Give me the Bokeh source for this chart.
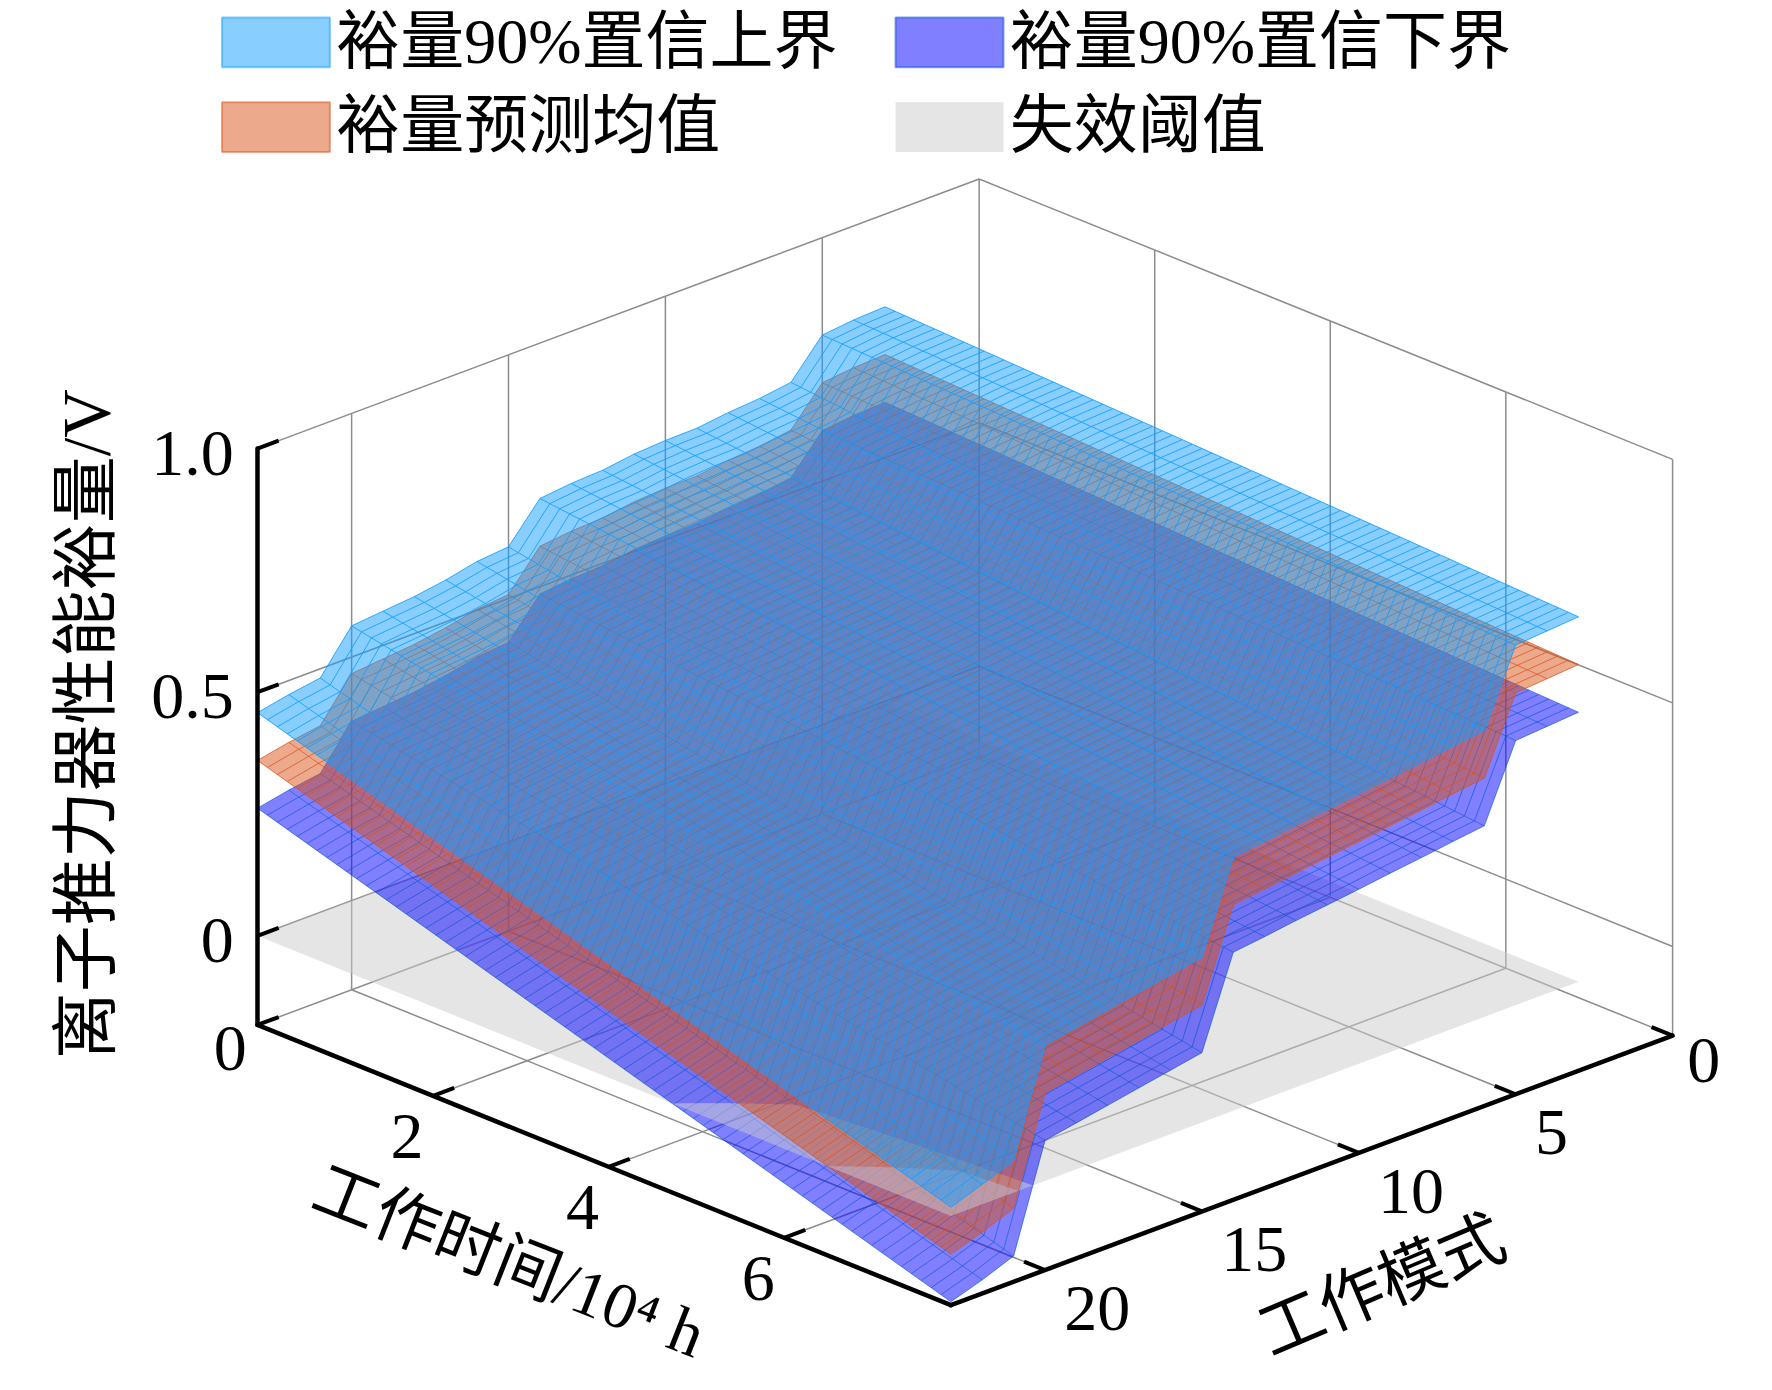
import numpy as np
from bokeh.plotting import figure
from bokeh.models import Range1d
from bokeh.embed import file_html
from bokeh.resources import INLINE
from bokeh.core.properties import value

# ---------------- data ----------------
modes = list(range(3, 24))                 # 工作模式
time_range = [0.0, 7.9]                    # 工作时间 / 10^4 h
n_time = 71                                # mesh samples along time

# margin (V) at the start (t = 0) and at the end (t = 7.9) of every mode line
upper_start = [0.810, 0.807, 0.800, 0.727, 0.718, 0.713, 0.705, 0.704, 0.700, 0.691, 0.688,
               0.681, 0.606, 0.600, 0.586, 0.576, 0.570, 0.564, 0.481, 0.471, 0.458]
upper_end   = [0.749, 0.744, 0.739, 0.588, 0.580, 0.571, 0.563, 0.554, 0.546, 0.538, 0.529,
               0.521, 0.339, 0.327, 0.315, 0.303, 0.291, 0.279, 0.066, 0.041, 0.018]
mean_start  = [0.712, 0.709, 0.702, 0.629, 0.620, 0.615, 0.607, 0.606, 0.602, 0.593, 0.590,
               0.583, 0.508, 0.502, 0.488, 0.478, 0.472, 0.466, 0.383, 0.373, 0.360]
mean_end    = [0.651, 0.646, 0.641, 0.490, 0.482, 0.473, 0.465, 0.456, 0.448, 0.440, 0.431,
               0.423, 0.241, 0.229, 0.217, 0.205, 0.193, 0.181, -0.032, -0.057, -0.078]
lower_start = [0.614, 0.611, 0.604, 0.531, 0.522, 0.517, 0.509, 0.508, 0.504, 0.495, 0.492,
               0.485, 0.410, 0.404, 0.390, 0.380, 0.374, 0.368, 0.285, 0.275, 0.262]
lower_end   = [0.553, 0.548, 0.543, 0.392, 0.384, 0.375, 0.367, 0.358, 0.350, 0.342, 0.333,
               0.325, 0.143, 0.131, 0.119, 0.107, 0.095, 0.083, -0.130, -0.155, -0.176]
threshold = 0.0                            # 失效阈值

t_lim = [0.0, 7.9]
m_lim = [0.0, 23.0]
z_lim = [-0.183, 1.0]
t_ticks = [0, 2, 4, 6]
t_tick_labels = ["0", "2", "4", "6"]
m_ticks = [0, 5, 10, 15, 20]
m_tick_labels = ["0", "5", "10", "15", "20"]
z_ticks = [0.0, 0.5, 1.0]
z_tick_labels = ["0", "0.5", "1.0"]

x_title = "工作时间/10⁴ h"
y_title = "工作模式"
z_title = "离子推力器性能裕量/V"
legend_labels = ["裕量90%置信上界", "裕量90%置信下界", "裕量预测均值", "失效阈值"]

# ---------------- styling ----------------
FONT = value("Liberation Serif, Noto Sans CJK SC")
UPPER_FACE, UPPER_EDGE, UPPER_EA = "#129EFF", "#129EFF", 0.85
MEAN_FACE, MEAN_EDGE, MEAN_EA = "#D95319", "#D95319", 0.75
LOWER_FACE, LOWER_EDGE, LOWER_EA = "#0000FF", "#0050D0", 0.6
THR_FACE = "#CCCCCC"
FACE_ALPHA = 0.5
GRID_COLOR = "#8C8C8C"

# ---------------- projection (orthographic 3-D view) ----------------
S = 1772 / 1568.0
PAGE_H = 1390.0
CORNER = (227.4, 906.5)        # view px of (t=t0, m=m_max, z=z_min)
T_VEC = (613.6, 248.0)         # view px for the full time span
M_VEC = (638.6, -238.5)        # view px for the full mode span (m_max -> m_min)
Z_PX = 431.1                   # view px per volt


def proj(t, m, z):
    t = np.asarray(t, float)
    m = np.asarray(m, float)
    z = np.asarray(z, float)
    ft = (t - t_lim[0]) / (t_lim[1] - t_lim[0])
    fm = (m_lim[1] - m) / (m_lim[1] - m_lim[0])
    xv = CORNER[0] + ft * T_VEC[0] + fm * M_VEC[0]
    yv = CORNER[1] + ft * T_VEC[1] + fm * M_VEC[1] - (z - z_lim[0]) * Z_PX
    return xv * S, PAGE_H - yv * S


def vx(v):   # view px offset -> page px offset
    return v * S


p = figure(width=1756, height=1374, x_range=Range1d(0, 1756), y_range=Range1d(16, 1390),
           output_backend="svg", toolbar_location=None, min_border=0,
           x_axis_location=None, y_axis_location=None)
p.xgrid.visible = False
p.ygrid.visible = False
p.outline_line_color = None
p.background_fill_color = "white"
p.border_fill_color = "white"

# ---------------- back walls and floor grid ----------------
gx, gy = [], []


def seg3(a, b):
    x, y = proj([a[0], b[0]], [a[1], b[1]], [a[2], b[2]])
    gx.append(x.tolist())
    gy.append(y.tolist())


T0, T1 = t_lim
M0, M1 = m_lim
Z0, Z1 = z_lim
for m in [M0] + m_ticks[1:]:
    seg3((T0, m, Z0), (T0, m, Z1))                 # left wall verticals
    seg3((T0, m, Z0), (T1, m, Z0))                 # floor lines along time
for z in z_ticks:
    seg3((T0, M0, z), (T0, M1, z))                 # left wall horizontals
    seg3((T0, M0, z), (T1, M0, z))                 # right wall horizontals
for t in [T0] + t_ticks[1:]:
    seg3((t, M0, Z0), (t, M1, Z0))                 # floor lines along mode
for t in t_ticks[1:] + [T1]:
    seg3((t, M0, Z0), (t, M0, Z1))                 # right wall verticals
p.multi_line(gx, gy, line_color=GRID_COLOR, line_width=1.5)

# ---------------- surfaces ----------------
ts = np.linspace(time_range[0], time_range[1], n_time)
ms = np.array(modes, float)
TT, MM = np.meshgrid(ts, ms, indexing="ij")
frac = ((ts - ts[0]) / (ts[-1] - ts[0]))[:, None]


def clip_poly(pts, zs):
    """split a projected polygon at the threshold plane (z linear along edges)"""
    below, above = [], []
    n = len(pts)
    for k in range(n):
        pa, pb = pts[k], pts[(k + 1) % n]
        za, zb = zs[k] - threshold, zs[(k + 1) % n] - threshold
        (below if za < 0 else above).append(pa)
        if (za < 0) != (zb < 0):
            f = za / (za - zb)
            q = (pa[0] + f * (pb[0] - pa[0]), pa[1] + f * (pb[1] - pa[1]))
            below.append(q)
            above.append(q)
    return below, above


def build(start, end):
    s = np.array(start)[None, :]
    e = np.array(end)[None, :]
    Z = s + (e - s) * frac
    X, Y = proj(TT, MM, Z)
    nt, nm = Z.shape
    polys = {True: ([], []), False: ([], [])}

    def add_poly(cls, pts):
        if len(pts) >= 3:
            polys[cls][0].append([float(q[0]) for q in pts])
            polys[cls][1].append([float(q[1]) for q in pts])

    for j in range(nm - 1):
        zq = np.stack([Z[:-1, j], Z[1:, j], Z[1:, j + 1], Z[:-1, j + 1]], axis=1) - threshold
        status = np.where((zq < 0).all(axis=1), 0, np.where((zq >= 0).all(axis=1), 1, 2))
        i = 0
        while i < nt - 1:
            st = status[i]
            if st == 2:
                pts = [(X[i, j], Y[i, j]), (X[i + 1, j], Y[i + 1, j]),
                       (X[i + 1, j + 1], Y[i + 1, j + 1]), (X[i, j + 1], Y[i, j + 1])]
                zs = [Z[i, j], Z[i + 1, j], Z[i + 1, j + 1], Z[i, j + 1]]
                b, a = clip_poly(pts, zs)
                add_poly(True, b)
                add_poly(False, a)
                i += 1
                continue
            k = i
            while k + 1 < nt - 1 and status[k + 1] == st:
                k += 1
            pts = [(X[i, j], Y[i, j]), (X[k + 1, j], Y[k + 1, j]),
                   (X[k + 1, j + 1], Y[k + 1, j + 1]), (X[i, j + 1], Y[i, j + 1])]
            add_poly(st == 0, pts)
            i = k + 1

    lines = {True: ([], []), False: ([], [])}

    def runs(xx, yy, zz):
        cls = bool(zz[0] - threshold < 0)
        cx, cy = [float(xx[0])], [float(yy[0])]
        for k in range(1, len(zz)):
            c2 = bool(zz[k] - threshold < 0)
            if c2 != cls:
                za, zb = zz[k - 1] - threshold, zz[k] - threshold
                f = za / (za - zb)
                qx = float(xx[k - 1] + f * (xx[k] - xx[k - 1]))
                qy = float(yy[k - 1] + f * (yy[k] - yy[k - 1]))
                cx.append(qx)
                cy.append(qy)
                lines[cls][0].append(cx)
                lines[cls][1].append(cy)
                cx, cy = [qx], [qy]
                cls = c2
            cx.append(float(xx[k]))
            cy.append(float(yy[k]))
        lines[cls][0].append(cx)
        lines[cls][1].append(cy)

    for i in range(nt):
        runs(X[i, :], Y[i, :], Z[i, :])
    for j in range(nm):
        runs(X[:, j], Y[:, j], Z[:, j])
    return polys, lines


surfaces = [
    (build(lower_start, lower_end), LOWER_FACE, LOWER_EDGE, LOWER_EA),
    (build(mean_start, mean_end), MEAN_FACE, MEAN_EDGE, MEAN_EA),
    (build(upper_start, upper_end), UPPER_FACE, UPPER_EDGE, UPPER_EA),
]


def draw_group(below):
    for (polys, lines), face, edge, ea in surfaces:
        xs, ys = polys[below]
        if xs:
            p.patches(xs, ys, fill_color=face, fill_alpha=FACE_ALPHA, line_color=None)
        lx, ly = lines[below]
        if lx:
            p.multi_line(lx, ly, line_color=edge, line_alpha=ea, line_width=1)


draw_group(True)
# threshold plane
px, py = proj([time_range[0], time_range[1], time_range[1], time_range[0]],
              [modes[0], modes[0], modes[-1], modes[-1]],
              [threshold] * 4)
p.patch(px.tolist(), py.tolist(), fill_color=THR_FACE, fill_alpha=FACE_ALPHA, line_color=None)
draw_group(False)

# ---------------- axes lines and ticks ----------------
ax, ay = [], []
for a, b in [((T0, M1, Z0), (T0, M1, Z1)), ((T0, M1, Z0), (T1, M1, Z0)), ((T1, M1, Z0), (T1, M0, Z0))]:
    x, y = proj([a[0], b[0]], [a[1], b[1]], [a[2], b[2]])
    ax.append(x.tolist())
    ay.append(y.tolist())
p.multi_line(ax, ay, line_color="black", line_width=4.5, line_cap="round")

dm = 0.675 * (M1 - M0) / 23.0
dt = 0.239 * (T1 - T0) / 7.9
kx, ky = [], []
for z in z_ticks:
    x, y = proj([T0, T0], [M1, M1 - dm], [z, z]); kx.append(x.tolist()); ky.append(y.tolist())
for t in t_ticks:
    x, y = proj([t, t], [M1, M1 - dm], [Z0, Z0]); kx.append(x.tolist()); ky.append(y.tolist())
for m in m_ticks:
    x, y = proj([T1, T1 - dt], [m, m], [Z0, Z0]); kx.append(x.tolist()); ky.append(y.tolist())
p.multi_line(kx, ky, line_color="black", line_width=4)

# ---------------- tick labels ----------------
TICK_SIZE = value("66px")
zx, zy = proj([T0] * len(z_ticks), [M1] * len(z_ticks), z_ticks)
p.text(x=(zx + vx(-21.0)).tolist(), y=(zy - vx(4)).tolist(), text=z_tick_labels,
       text_font=FONT, text_font_size=TICK_SIZE, text_align="right", text_baseline="middle",
       text_color="black")

tx, ty = proj(t_ticks, [M1] * len(t_ticks), [Z0] * len(t_ticks))
tdx = np.array([-24.0 if v == T0 else -23.0 for v in t_ticks])
tdy = np.array([21.0 if v == T0 else 36.0 for v in t_ticks])
p.text(x=(tx + vx(tdx)).tolist(), y=(ty - vx(tdy)).tolist(), text=t_tick_labels,
       text_font=FONT, text_font_size=TICK_SIZE, text_align="center", text_baseline="middle",
       text_color="black")

mx, my = proj([T1] * len(m_ticks), m_ticks, [Z0] * len(m_ticks))
mdx = np.array([13.0 if v == M0 else 17.0 for v in m_ticks])
mdy = np.array([22.0 if v == M0 else 34.0 for v in m_ticks])
p.text(x=(mx + vx(mdx)).tolist(), y=(my - vx(mdy)).tolist(), text=m_tick_labels,
       text_font=FONT, text_font_size=TICK_SIZE, text_align="left", text_baseline="middle",
       text_color="black")

# ---------------- axis titles ----------------
TITLE_SIZE = value("65px")
cx, cy = proj([(T0 + T1) / 2], [M1], [Z0])
p.text(x=[float(cx[0] + vx(-84))], y=[float(cy[0] - vx(85.5))], text=[x_title],
       angle=np.deg2rad(-21.5), text_font=FONT, text_font_size=TITLE_SIZE,
       text_align="center", text_baseline="middle", text_color="black")
cx, cy = proj([T1], [(M0 + M1) / 2], [Z0])
p.text(x=[float(cx[0] + vx(62))], y=[float(cy[0] - vx(102))], text=[y_title],
       angle=np.deg2rad(23.0), text_font=FONT, text_font_size=TITLE_SIZE,
       text_align="center", text_baseline="middle", text_color="black")
cx, cy = proj([T0], [M1], [(Z0 + Z1) / 2])
p.text(x=[float(cx[0] + vx(-152))], y=[float(cy[0] - vx(-11))], text=[z_title],
       angle=np.pi / 2, text_font=FONT, text_font_size=value("67px"),
       text_align="center", text_baseline="middle", text_color="black")

# ---------------- legend ----------------
leg_faces = [UPPER_FACE, LOWER_FACE, MEAN_FACE, THR_FACE]
leg_edges = [UPPER_EDGE, LOWER_EDGE, MEAN_EDGE, None]
col_x = [196.0, 792.0]
row_y = [15.0, 90.0]
PW, PH = 95.5, 44.0
for k, lab in enumerate(legend_labels):
    c, r = k % 2, k // 2
    x0 = col_x[c] * S
    x1 = (col_x[c] + PW) * S
    top = PAGE_H - row_y[r] * S
    bot = PAGE_H - (row_y[r] + PH) * S
    if leg_edges[k]:
        p.quad(left=[x0], right=[x1], top=[top], bottom=[bot], fill_color=leg_faces[k],
               fill_alpha=FACE_ALPHA, line_color=leg_edges[k], line_alpha=0.5, line_width=2)
    else:
        p.quad(left=[x0], right=[x1], top=[top], bottom=[bot], fill_color=leg_faces[k],
               fill_alpha=FACE_ALPHA, line_color=None)
    p.text(x=[(col_x[c] + 101.0) * S], y=[PAGE_H - (row_y[r] + 21.0) * S], text=[lab],
           text_font=FONT, text_font_size=value("64px"), text_align="left",
           text_baseline="middle", text_color="black")

open("out.html", "w").write(file_html(p, INLINE))
